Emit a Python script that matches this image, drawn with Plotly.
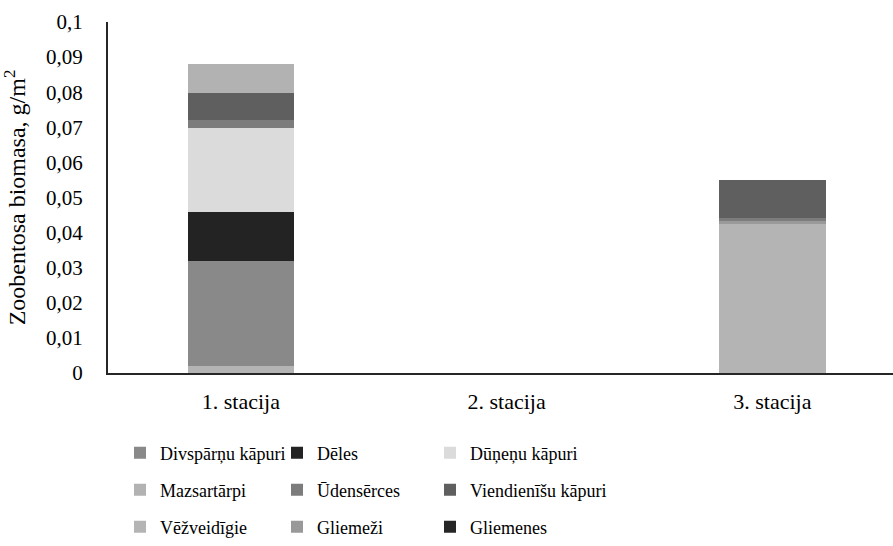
import plotly.graph_objects as go

# ---- data ----
stations = ["1. stacija", "2. stacija", "3. stacija"]

vezveidigie = [0.0020, 0.0, 0.0425]
divsparnu_kapuri = [0.0300, 0.0, 0.0]
deles = [0.0139, 0.0, 0.0]
dunenu_kapuri = [0.0240, 0.0, 0.0]
gliemezi = [0.0, 0.0, 0.0007]
udenserces = [0.0022, 0.0, 0.0010]
viendienisu_kapuri = [0.0078, 0.0, 0.0109]
mazsartarpi = [0.0082, 0.0, 0.0]
gliemenes = [0.0, 0.0, 0.0]

y_tick_vals = [0, 0.01, 0.02, 0.03, 0.04, 0.05, 0.06, 0.07, 0.08, 0.09, 0.1]
y_tick_text = ["0", "0,01", "0,02", "0,03", "0,04", "0,05", "0,06", "0,07", "0,08", "0,09", "0,1"]

# (name, values, colour, legend row, legend column) in stacking order bottom->top
series = [
    ("Vēžveidīgie", vezveidigie, "#b4b4b4", 2, 0),
    ("Divspārņu kāpuri", divsparnu_kapuri, "#898989", 0, 0),
    ("Dēles", deles, "#232323", 0, 1),
    ("Dūņeņu kāpuri", dunenu_kapuri, "#dbdbdb", 0, 2),
    ("Gliemeži", gliemezi, "#999999", 2, 1),
    ("Ūdensērces", udenserces, "#7c7c7c", 1, 1),
    ("Viendienīšu kāpuri", viendienisu_kapuri, "#5f5f5f", 1, 2),
    ("Mazsartārpi", mazsartarpi, "#b2b2b2", 1, 0),
    ("Gliemenes", gliemenes, "#262626", 2, 2),
]

FONT = "Times New Roman, Liberation Serif, serif"

W, H = 893, 546
ml, mr, mt, mb = 108, 0, 22, 173
pw = W - ml - mr
ph = H - mt - mb

def py(ypix):
    return (H - mb - ypix) / ph

def px(xpix):
    return (xpix - ml) / pw

row_y = [453, 490, 527]
col_text_x = [160, 317, 470]

fig = go.Figure()
legends = {}
for i, (name, vals, col, r, c) in enumerate(series):
    key = "legend" if i == 0 else f"legend{i + 1}"
    fig.add_trace(go.Bar(
        x=stations, y=vals, name=name,
        marker=dict(color=col, line=dict(width=0)),
        legend=key,
    ))
    legends[key] = dict(
        x=px(col_text_x[c] - 40), y=py(row_y[r]),
        xanchor="left", yanchor="middle", orientation="v",
        font=dict(family=FONT, size=18, color="#000000"),
        bgcolor="rgba(0,0,0,0)", borderwidth=0,
    )

fig.update_layout(
    width=W, height=H,
    margin=dict(l=ml, r=mr, t=mt, b=mb, pad=0),
    paper_bgcolor="white", plot_bgcolor="white",
    barmode="stack", bargap=0.6,
    font=dict(family=FONT, color="#000000"),
    showlegend=True,
    xaxis=dict(
        range=[-0.5, 2.454], showgrid=False, zeroline=False,
        showline=True, linecolor="#262626", linewidth=2,
        ticks="", tickfont=dict(family=FONT, size=22, color="#000000"),
        ticklabelstandoff=8,
    ),
    yaxis=dict(
        range=[0, 0.1], showgrid=False, zeroline=False,
        showline=True, linecolor="#262626", linewidth=2,
        tickvals=y_tick_vals, ticktext=y_tick_text,
        ticks="", tickfont=dict(family=FONT, size=21, color="#000000"),
        ticklabelstandoff=19,
        title=dict(text="Zoobentosa biomasa, g/m<sup>2</sup>",
                   font=dict(family=FONT, size=24, color="#000000"),
                   standoff=14),
    ),
)
fig.update_layout(**legends)

fig.write_html("out.html", config={"displayModeBar": False},
               post_script="document.body.style.margin='0';")
